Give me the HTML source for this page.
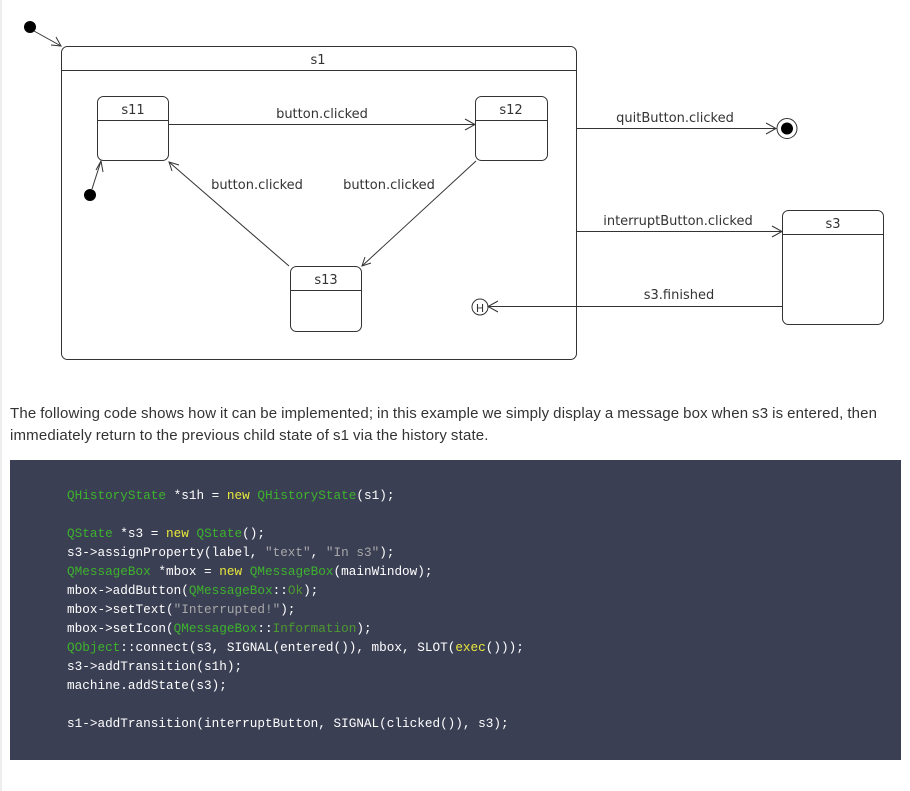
<!DOCTYPE html>
<html><head><meta charset="utf-8"><style>
html,body{margin:0;padding:0;background:#fff;}
body{width:910px;height:791px;position:relative;overflow:hidden;font-family:"Liberation Sans",sans-serif;}
.bar{position:absolute;left:0;top:0;width:2px;height:791px;background:#eee;}
svg{position:absolute;left:0;top:0;}
.p{position:absolute;left:10px;top:403px;width:900px;white-space:nowrap;font-size:15px;line-height:22px;color:#333;letter-spacing:0.17px;word-spacing:-0.5px;}
.code{position:absolute;left:10px;top:460px;width:891px;height:300px;background:#3b3f54;}
pre{position:absolute;left:57px;top:26px;margin:0;font-family:"Liberation Mono",monospace;font-size:12.7px;line-height:19px;color:#fff;}
.g{color:#3db32c}.y{color:#e8e83a}.s{color:#a8a8a8}.d{color:#4d9a2e}
</style></head><body>
<div class="bar"></div>
<svg width="910" height="400" viewBox="0 0 910 400" font-family="DejaVu Sans, sans-serif" font-size="13" fill="none" stroke="#333" stroke-width="1">
<circle cx="30" cy="27" r="6" fill="#000" stroke="none"/>
<line x1="34" y1="31" x2="61" y2="46"/>
<polyline points="51,45 61,46 56,37"/>
<rect x="61.5" y="46.5" width="515" height="313" rx="6"/>
<line x1="61.5" y1="70.5" x2="576.5" y2="70.5"/>
<text x="318" y="64" fill="#333" stroke="none" text-anchor="middle" font-size="13">s1</text>
<rect x="97.5" y="96.5" width="71" height="64" rx="6"/>
<line x1="97.5" y1="120.5" x2="168.5" y2="120.5"/>
<text x="133" y="114" fill="#333" stroke="none" text-anchor="middle">s11</text>
<rect x="475.5" y="96.5" width="72" height="64" rx="6"/>
<line x1="475.5" y1="120.5" x2="547.5" y2="120.5"/>
<text x="511" y="114" fill="#333" stroke="none" text-anchor="middle">s12</text>
<rect x="290.5" y="266.5" width="71" height="65" rx="6"/>
<line x1="290.5" y1="290.5" x2="361.5" y2="290.5"/>
<text x="326" y="284" fill="#333" stroke="none" text-anchor="middle">s13</text>
<line x1="168.5" y1="124.5" x2="475" y2="124.5"/>
<polyline points="465,119 475,124.5 465,130"/>
<text x="322" y="118" fill="#333" stroke="none" text-anchor="middle">button.clicked</text>
<circle cx="90" cy="195" r="6" fill="#000" stroke="none"/>
<line x1="92" y1="189" x2="101" y2="161"/>
<polyline points="96,170 101,161 103,172"/>
<line x1="289" y1="266" x2="169" y2="162"/>
<polyline points="172,171 169,162 179,165"/>
<text x="257" y="189" fill="#333" stroke="none" text-anchor="middle">button.clicked</text>
<line x1="476" y1="161" x2="362" y2="266"/>
<polyline points="365,257 362,266 371,263"/>
<text x="389" y="189" fill="#333" stroke="none" text-anchor="middle">button.clicked</text>
<circle cx="480" cy="307" r="8"/>
<text x="480" y="312" fill="#333" stroke="none" text-anchor="middle" font-size="11">H</text>
<line x1="576" y1="128.5" x2="776" y2="128.5"/>
<polyline points="766,123 776,128.5 766,134"/>
<text x="675" y="122" fill="#333" stroke="none" text-anchor="middle">quitButton.clicked</text>
<circle cx="787" cy="128.5" r="10"/>
<circle cx="787" cy="128.5" r="6" fill="#000" stroke="none"/>
<line x1="576" y1="231.5" x2="782" y2="231.5"/>
<polyline points="772,226 782,231.5 772,237"/>
<text x="678" y="225" fill="#333" stroke="none" text-anchor="middle">interruptButton.clicked</text>
<rect x="782.5" y="210.5" width="101" height="114" rx="6"/>
<line x1="782.5" y1="234.5" x2="883.5" y2="234.5"/>
<text x="833" y="228" fill="#333" stroke="none" text-anchor="middle">s3</text>
<line x1="782" y1="306.5" x2="488" y2="306.5"/>
<polyline points="498,301 488,306.5 498,312"/>
<text x="679" y="299" fill="#333" stroke="none" text-anchor="middle">s3.finished</text>
</svg>
<div class="p">The following code shows how it can be implemented; in this example we simply display a message box when s3 is entered, then<br>immediately return to the previous child state of s1 via the history state.</div>
<div class="code"><pre><span class="g">QHistoryState</span> *s1h = <span class="y">new</span> <span class="g">QHistoryState</span>(s1);

<span class="g">QState</span> *s3 = <span class="y">new</span> <span class="g">QState</span>();
s3-&gt;assignProperty(label, <span class="s">"text"</span>, <span class="s">"In s3"</span>);
<span class="g">QMessageBox</span> *mbox = <span class="y">new</span> <span class="g">QMessageBox</span>(mainWindow);
mbox-&gt;addButton(<span class="g">QMessageBox</span>::<span class="d">Ok</span>);
mbox-&gt;setText(<span class="s">"Interrupted!"</span>);
mbox-&gt;setIcon(<span class="g">QMessageBox</span>::<span class="d">Information</span>);
<span class="g">QObject</span>::connect(s3, SIGNAL(entered()), mbox, SLOT(<span class="y">exec</span>()));
s3-&gt;addTransition(s1h);
machine.addState(s3);

s1-&gt;addTransition(interruptButton, SIGNAL(clicked()), s3);</pre></div>
</body></html>
